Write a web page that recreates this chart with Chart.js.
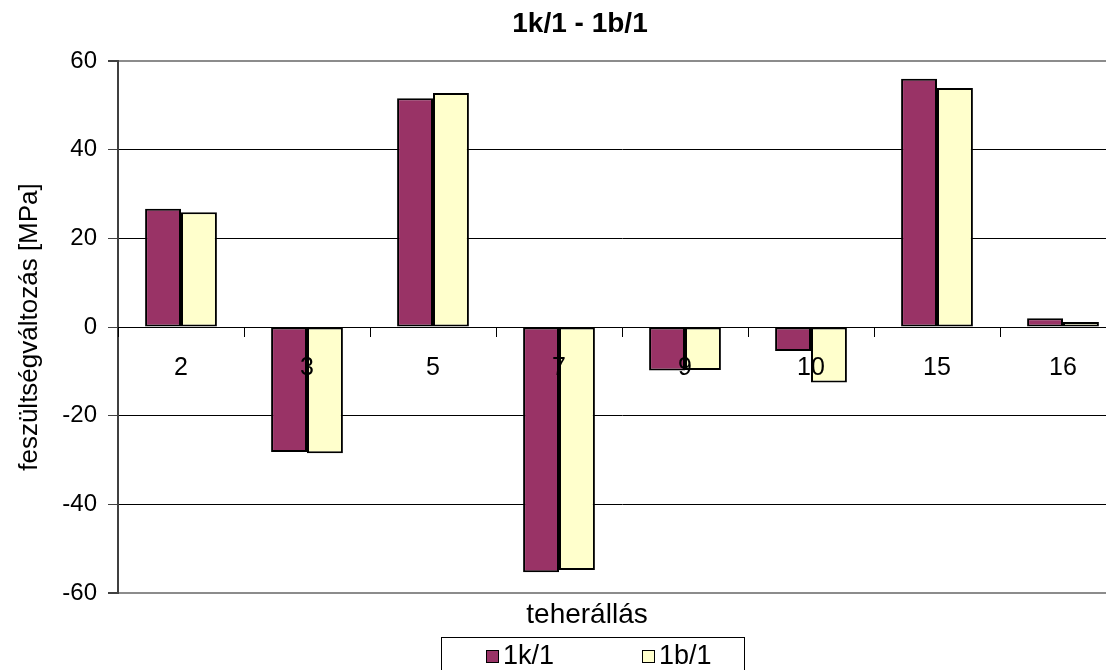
<!DOCTYPE html>
<html>
<head>
<meta charset="utf-8">
<script src="https://cdn.jsdelivr.net/npm/chart.js@4.4.0/dist/chart.umd.min.js"></script>
<style>
  html, body { margin: 0; padding: 0; background: #fff; overflow: hidden; }
  #frame { position: absolute; left: 0; top: 0; width: 1106px; height: 670px; overflow: hidden; background: #fff; }
  #c { display: block; }
</style>
</head>
<body>
<div id="frame"><canvas id="c" width="1140" height="700"></canvas></div>
<script>
// Texts
const chartTitle = '1k/1 - 1b/1';
const xAxisTitle = 'teherállás';
const yAxisTitle = 'feszültségváltozás [MPa]';

// Load positions (categories)
const categories = ['2', '3', '5', '7', '9', '10', '15', '16'];

// Stress change per load position [MPa]
const series1Label = '1k/1';
const series1Values = [26.7, -28.2, 51.6, -55.3, -9.8, -5.4, 56.0, 2.0];
const series2Label = '1b/1';
const series2Values = [25.9, -28.5, 52.8, -54.8, -9.7, -12.5, 53.9, 1.1];

// Value axis ticks
const yTicks = [-60, -40, -20, 0, 20, 40, 60];

const FONT = '"Liberation Sans", Arial, sans-serif';
Chart.defaults.font.family = FONT;
Chart.defaults.color = '#000';

// Title, category-axis caption and boxed legend
const frameText = {
  id: 'frameText',
  afterDraw(chart) {
    const ctx = chart.ctx;
    ctx.save();
    ctx.fillStyle = '#000';
    ctx.textAlign = 'center';
    ctx.textBaseline = 'middle';
    ctx.font = 'bold 28px ' + FONT;
    ctx.fillText(chartTitle, 580, 24);
    ctx.font = '28px ' + FONT;
    ctx.fillText(xAxisTitle, 587, 615);

    // legend frame
    ctx.strokeStyle = '#000';
    ctx.lineWidth = 1;
    ctx.strokeRect(441.5, 637.5, 303, 50);

    // legend entries
    const itemX = [486, 642];
    ctx.font = '27px ' + FONT;
    ctx.textAlign = 'left';
    chart.data.datasets.forEach((ds, i) => {
      const x = itemX[i];
      ctx.fillStyle = ds.backgroundColor;
      ctx.fillRect(x, 650, 12, 12);
      ctx.strokeStyle = '#000';
      ctx.strokeRect(x + 0.5, 650.5, 12, 12);
      ctx.fillStyle = '#000';
      ctx.fillText(ds.label, x + 17, 657);
    });
    ctx.restore();
  }
};

new Chart(document.getElementById('c'), {
  type: 'bar',
  data: {
    labels: categories,
    datasets: [
      {
        label: series1Label,
        data: series1Values,
        backgroundColor: '#993366',
        borderColor: '#000',
        borderWidth: 2,
        borderSkipped: false,
        categoryPercentage: 0.57,
        barPercentage: 1.0
      },
      {
        label: series2Label,
        data: series2Values,
        backgroundColor: '#FFFFCC',
        borderColor: '#000',
        borderWidth: 2,
        borderSkipped: false,
        categoryPercentage: 0.57,
        barPercentage: 1.0
      }
    ]
  },
  options: {
    responsive: false,
    animation: false,
    devicePixelRatio: 1,
    layout: { padding: { left: 0, right: 14, top: 61, bottom: 107 } },
    plugins: {
      legend: { display: false },
      title: { display: false },
      tooltip: { enabled: false }
    },
    scales: {
      x: {
        type: 'category',
        position: { y: 0 },
        grid: {
          offset: true,
          drawOnChartArea: false,
          drawTicks: true,
          tickLength: 9,
          tickColor: '#000',
          tickWidth: 1,
          z: 1
        },
        border: { display: true, color: '#000', width: 1, z: 1 },
        ticks: {
          font: { size: 25 },
          color: '#000',
          padding: 17,
          maxRotation: 0,
          autoSkip: false,
          z: 1
        }
      },
      y: {
        min: -60,
        max: 60,
        afterBuildTicks: (scale) => { scale.ticks = yTicks.map(v => ({ value: v })); },
        afterFit: (scale) => { scale.width = 118; },
        grid: {
          color: (c) => (c.tick && Math.abs(c.tick.value) === 60) ? '#8c8c8c' : '#000',
          lineWidth: (c) => (c.tick && Math.abs(c.tick.value) === 60) ? 2 : 1,
          tickColor: '#404040',
          tickLength: 10,
          drawTicks: true
        },
        border: { display: true, color: '#404040', width: 2 },
        ticks: {
          font: { size: 24 },
          color: '#000',
          padding: 11
        },
        title: {
          display: true,
          text: yAxisTitle,
          font: { size: 26 },
          color: '#000',
          padding: { top: 14, bottom: 0 }
        }
      }
    }
  },
  plugins: [frameText]
});
</script>
</body>
</html>
